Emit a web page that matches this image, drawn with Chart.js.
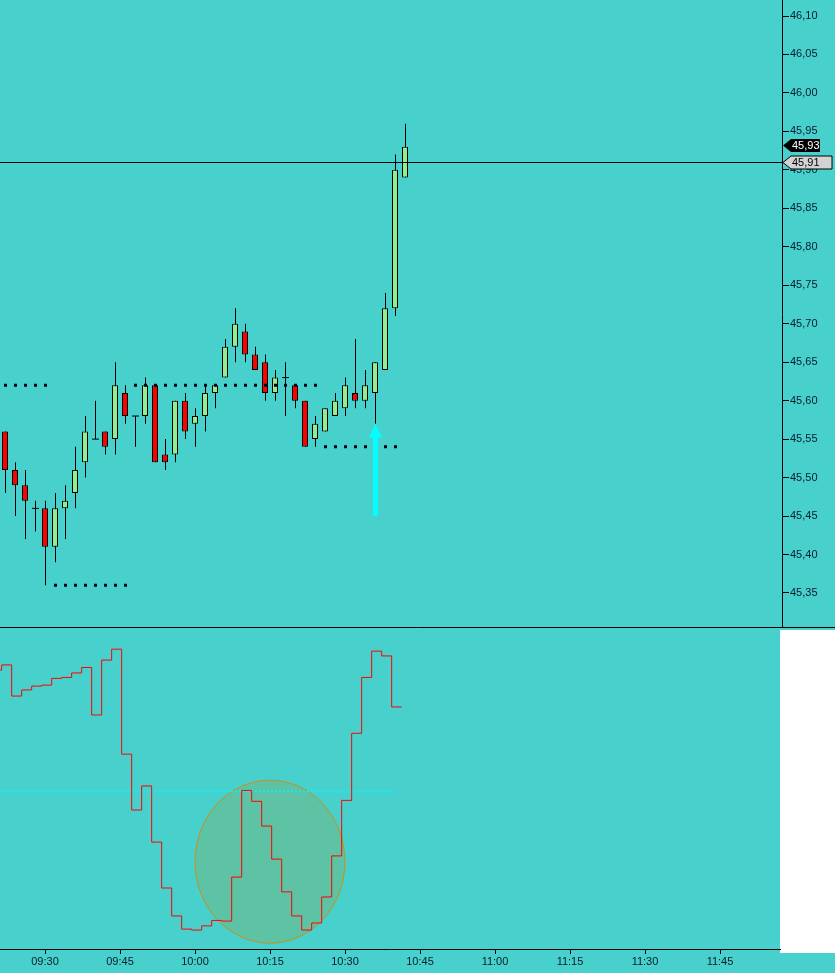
<!DOCTYPE html>
<html><head><meta charset="utf-8">
<script src="https://cdn.jsdelivr.net/npm/chart.js@4.4.0/dist/chart.umd.min.js"></script>
<style>
html,body{margin:0;padding:0;background:#48D1CC;overflow:hidden;}
canvas{display:block;}
</style></head>
<body>
<canvas id="price" width="835" height="628"></canvas>
<canvas id="osc" width="835" height="345"></canvas>
<script>
// ---------- DATA ----------
const candleTimes = ['09:22','09:24','09:26','09:28','09:30','09:32','09:34','09:36','09:38','09:40',
  '09:42','09:44','09:46','09:48','09:50','09:52','09:54','09:56','09:58','10:00',
  '10:02','10:04','10:06','10:08','10:10','10:12','10:14','10:16','10:18','10:20',
  '10:22','10:24','10:26','10:28','10:30','10:32','10:34','10:36','10:38','10:40','10:42'];
const opens  = [45.56,45.51,45.49,45.46,45.46,45.41,45.46,45.48,45.52,45.55,
  45.56,45.55,45.61,45.58,45.58,45.62,45.53,45.53,45.60,45.57,
  45.58,45.61,45.63,45.67,45.69,45.66,45.65,45.61,45.63,45.62,
  45.60,45.55,45.56,45.58,45.59,45.61,45.60,45.61,45.64,45.72,45.89];
const highs  = [45.56,45.52,45.51,45.47,45.47,45.48,45.49,45.54,45.58,45.60,
  45.56,45.65,45.62,45.58,45.63,45.62,45.55,45.60,45.61,45.59,
  45.62,45.62,45.68,45.72,45.70,45.67,45.66,45.64,45.65,45.62,
  45.60,45.58,45.59,45.61,45.63,45.68,45.64,45.65,45.74,45.92,45.96];
const lows   = [45.48,45.45,45.42,45.43,45.36,45.39,45.42,45.46,45.50,45.55,
  45.53,45.53,45.57,45.54,45.57,45.52,45.51,45.52,45.55,45.54,
  45.56,45.59,45.63,45.65,45.65,45.64,45.60,45.60,45.58,45.59,
  45.54,45.54,45.56,45.58,45.58,45.59,45.59,45.57,45.64,45.71,45.89];
const closes = [45.51,45.49,45.47,45.46,45.41,45.46,45.47,45.51,45.56,45.55,
  45.54,45.62,45.58,45.58,45.62,45.52,45.52,45.60,45.56,45.58,
  45.61,45.62,45.67,45.70,45.66,45.64,45.61,45.63,45.63,45.60,
  45.54,45.57,45.59,45.60,45.62,45.60,45.62,45.65,45.72,45.90,45.93];

const priceTicks = [45.35,45.40,45.45,45.50,45.55,45.60,45.65,45.70,45.75,45.80,45.85,45.90,45.95,46.00,46.05,46.10];
const timeTicks  = ['09:30','09:45','10:00','10:15','10:30','10:45','11:00','11:15','11:30','11:45'];

const levelPrices = [45.62, 45.62, 45.36, 45.54];
const levelFrom   = ['09:22','09:48','09:32','10:26'];
const levelTo     = ['09:30','10:24','09:46','10:40'];

const lastPrice = 45.93;
const markPrice = 45.91;

const arrowTime = '10:36';
const arrowFrom = 45.45;
const arrowTo   = 45.57;

const oscTimes = ['09:20','09:22','09:24','09:26','09:28','09:30','09:32','09:34','09:36','09:38',
  '09:40','09:42','09:44','09:46','09:48','09:50','09:52','09:54','09:56','09:58',
  '10:00','10:02','10:04','10:06','10:08','10:10','10:12','10:14','10:16','10:18',
  '10:20','10:22','10:24','10:26','10:28','10:30','10:32','10:34','10:36','10:38','10:40'];
const oscValues = [86.9,88.5,78.8,80.7,81.9,82.2,84.3,84.6,86.0,87.7,
  72.9,90.0,93.4,60.7,43.3,50.8,33.3,19.0,10.3,6.2,
  5.9,7.2,8.9,8.7,22.4,49.4,46.0,38.3,28.0,17.8,
  10.3,5.9,8.1,16.2,29.0,46.3,67.2,84.6,92.8,91.3,75.4];
const oscLevel = 49.1;
const oscLevelFrom = '09:20';
const oscLevelTo = '10:40';

const circleTime = '10:15';
const circleValue = 27.2;

// ---------- HELPERS / LAYOUT ----------
const BG = '#48D1CC';
const TXT = '#0a1a30';
const FONT = '"Liberation Sans", Arial, sans-serif';
Chart.defaults.font.family = FONT;
Chart.defaults.font.size = 11;

const toMin = s => { const [h, m] = s.split(':').map(Number); return h * 60 + m; };
const fmtMin = v => { const h = Math.floor(v / 60), m = Math.round(v - h * 60); return String(h).padStart(2,'0') + ':' + String(m).padStart(2,'0'); };

const PX_PER_MIN = 5;
const X_MIN = toMin('09:21');
const PLOT_W_TOP = 782, PLOT_W_BOT = 780;
const PX_PER_PRICE = 769.3;
const Y_MAX = 46.10 + 16 / PX_PER_PRICE;
const Y_MIN = Y_MAX - 628 / PX_PER_PRICE;

const ct = candleTimes.map(toMin);
const wickData = ct.map((t, i) => ({x: t, y: [lows[i], highs[i]]}));
const bodyIdx = ct.map((t, i) => i).filter(i => opens[i] !== closes[i]);
const bodyData = bodyIdx.map(i => ({x: ct[i], y: [opens[i], closes[i]]}));
const bodyColors = bodyIdx.map(i => closes[i] > opens[i] ? '#90EE90' : '#FF0000');
const dojiData = ct.map((t, i) => opens[i] === closes[i] ? {x: t, y: opens[i]} : null).filter(Boolean);

const levelSets = levelPrices.map((p, k) => ({
  type: 'line',
  data: [{x: toMin(levelFrom[k]) - 0.2, y: p}, {x: toMin(levelTo[k]) + 0.4, y: p}],
  borderColor: '#00001a', borderWidth: 3, borderDash: [3, 7], borderCapStyle: 'butt',
  pointRadius: 0, pointHoverRadius: 0, order: 1
}));

const bgPlugin = {
  id: 'bg',
  beforeDraw(chart) {
    const ctx = chart.ctx;
    ctx.save(); ctx.fillStyle = BG; ctx.fillRect(0, 0, chart.width, chart.height); ctx.restore();
  }
};
const shiftPlugin = {
  id: 'shift',
  beforeDatasetDraw(chart, args) {
    if (chart.data.datasets[args.index].shiftHalf) { chart.ctx.save(); chart.ctx.translate(0.5, 0); }
  },
  afterDatasetDraw(chart, args) {
    if (chart.data.datasets[args.index].shiftHalf) { chart.ctx.restore(); }
  }
};

function tag(ctx, x0, y, right, text, bg, fg, border) {
  const h = 13, x1 = x0 + 8;
  ctx.beginPath();
  ctx.moveTo(x0, y); ctx.lineTo(x1, y - h / 2); ctx.lineTo(right, y - h / 2);
  ctx.lineTo(right, y + h / 2); ctx.lineTo(x1, y + h / 2); ctx.closePath();
  ctx.fillStyle = bg; ctx.fill();
  if (border) { ctx.strokeStyle = border; ctx.lineWidth = 1; ctx.stroke(); }
  ctx.fillStyle = fg; ctx.font = '11px ' + FONT; ctx.textBaseline = 'middle'; ctx.textAlign = 'left';
  ctx.fillText(text, x1 + 1, y + 0.5);
}
const fmtPrice = v => v.toFixed(2).replace('.', ',');

const pricePlugin = {
  id: 'priceDeco',
  afterDatasetsDraw(chart) {
    const ctx = chart.ctx, xs = chart.scales.x, ys = chart.scales.y, a = chart.chartArea;
    ctx.save();
    const yl = Math.round(ys.getPixelForValue(markPrice)) + 0.5;
    ctx.strokeStyle = '#000'; ctx.lineWidth = 1;
    ctx.beginPath(); ctx.moveTo(a.left, yl); ctx.lineTo(a.right, yl); ctx.stroke();
    const ax = xs.getPixelForValue(toMin(arrowTime));
    const yb = ys.getPixelForValue(arrowFrom), yt = ys.getPixelForValue(arrowTo);
    ctx.fillStyle = '#00FFFF';
    ctx.fillRect(ax - 2, yt + 13, 5, yb - yt - 13);
    ctx.beginPath(); ctx.moveTo(ax + 0.5, yt); ctx.lineTo(ax + 7, yt + 14); ctx.lineTo(ax - 6, yt + 14); ctx.closePath(); ctx.fill();
    ctx.restore();
  },
  afterDraw(chart) {
    const ctx = chart.ctx, ys = chart.scales.y, a = chart.chartArea;
    ctx.save();
    ctx.strokeStyle = '#000'; ctx.lineWidth = 1;
    ctx.beginPath(); ctx.moveTo(0, chart.height - 0.5); ctx.lineTo(chart.width, chart.height - 0.5); ctx.stroke();
    tag(ctx, a.right + 1, Math.round(ys.getPixelForValue(lastPrice)) - 2 + 0.5, a.right + 38, fmtPrice(lastPrice), '#000000', '#ffffff', null);
    tag(ctx, a.right + 1, Math.round(ys.getPixelForValue(markPrice)) + 0.5, a.right + 50, fmtPrice(markPrice), '#D3D3D3', '#000000', '#000000');
    ctx.restore();
  }
};

new Chart(document.getElementById('price'), {
  type: 'bar',
  data: {
    datasets: [
      {type: 'bar', data: wickData, backgroundColor: '#000', borderWidth: 0, barThickness: 1, grouped: false, order: 3, inflateAmount: 0, shiftHalf: true},
      {type: 'bar', data: bodyData, backgroundColor: bodyColors, borderColor: '#000', borderWidth: 1, borderSkipped: false, barThickness: 6, grouped: false, order: 2, inflateAmount: 0},
      {type: 'line', data: dojiData, showLine: false, pointStyle: 'line', pointRadius: 3.5, pointHoverRadius: 3.5, pointBorderWidth: 1, pointBorderColor: '#000', order: 2, shiftHalf: true},
      ...levelSets
    ]
  },
  options: {
    responsive: false, animation: false, devicePixelRatio: 1,
    layout: {padding: 0, autoPadding: false},
    events: [],
    plugins: {legend: {display: false}, tooltip: {enabled: false}},
    scales: {
      x: {type: 'linear', min: X_MIN, max: X_MIN + PLOT_W_TOP / PX_PER_MIN, display: false, offset: false},
      y: {
        type: 'linear', position: 'right', min: Y_MIN, max: Y_MAX,
        afterBuildTicks: s => { s.ticks = priceTicks.map(v => ({value: v})); },
        afterFit: s => { s.width = 835 - PLOT_W_TOP; s.paddingTop = 0; s.paddingBottom = 0; },
        grid: {display: true, drawOnChartArea: false, drawTicks: true, tickLength: 7, tickColor: '#000', color: '#000'},
        border: {display: true, color: '#000', width: 1},
        ticks: {padding: 1, color: TXT, font: {size: 11}, autoSkip: false, callback: v => fmtPrice(v)}
      }
    }
  },
  plugins: [bgPlugin, shiftPlugin, pricePlugin]
});

// ---------- OSCILLATOR PANE ----------
const STEP_SHIFT = -2 / 3;
const oscData = oscTimes.map((t, i) => ({x: toMin(t) + STEP_SHIFT, y: oscValues[i]}));
oscData.push({x: toMin(oscTimes[oscTimes.length - 1]) + 2 + STEP_SHIFT, y: oscValues[oscValues.length - 1]});

const oscPlugin = {
  id: 'oscDeco',
  beforeDraw(chart) {
    const ctx = chart.ctx, a = chart.chartArea;
    ctx.save();
    ctx.fillStyle = BG; ctx.fillRect(0, 0, chart.width, chart.height);
    ctx.fillStyle = '#ffffff'; ctx.fillRect(a.right, 2, chart.width - a.right, a.bottom + 4 - 2);
    ctx.restore();
  },
  beforeDatasetsDraw(chart) {
    const ctx = chart.ctx, xs = chart.scales.x, ys = chart.scales.y;
    const cx = xs.getPixelForValue(toMin(circleTime)), cy = ys.getPixelForValue(circleValue);
    ctx.save();
    ctx.beginPath(); ctx.ellipse(cx, cy, 75, 81.5, 0, 0, Math.PI * 2);
    ctx.fillStyle = 'rgba(184,134,11,0.2)'; ctx.fill();
    ctx.strokeStyle = '#C8901A'; ctx.lineWidth = 1; ctx.stroke();
    ctx.restore();
  }
};

new Chart(document.getElementById('osc'), {
  type: 'line',
  data: {
    datasets: [
      {data: oscData, stepped: 'before', borderColor: '#FF0000', borderWidth: 1, pointRadius: 0, pointHoverRadius: 0, order: 1},
      {data: [{x: toMin(oscLevelFrom), y: oscLevel}, {x: toMin(oscLevelTo) + 0.15, y: oscLevel}],
       borderColor: '#10EEF8', borderWidth: 2, borderDash: [2, 2], pointRadius: 0, pointHoverRadius: 0, order: 2}
    ]
  },
  options: {
    responsive: false, animation: false, devicePixelRatio: 1,
    layout: {padding: {left: 0, top: 0, bottom: 0, right: 835 - PLOT_W_BOT}, autoPadding: false},
    events: [],
    plugins: {legend: {display: false}, tooltip: {enabled: false}},
    scales: {
      x: {
        type: 'linear', min: X_MIN, max: X_MIN + PLOT_W_BOT / PX_PER_MIN, offset: false,
        afterBuildTicks: s => { s.ticks = timeTicks.map(t => ({value: toMin(t)})); },
        afterFit: s => { s.height = 24; s.paddingLeft = 0; s.paddingRight = 0; },
        grid: {display: true, drawOnChartArea: false, drawTicks: true, tickLength: 5, tickColor: '#000', color: '#000'},
        border: {display: true, color: '#000', width: 1},
        ticks: {padding: 1, color: TXT, font: {size: 11}, autoSkip: false, maxRotation: 0, callback: v => fmtMin(v)}
      },
      y: {type: 'linear', min: 0, max: 100, display: false}
    }
  },
  plugins: [oscPlugin]
});
</script>
</body></html>
